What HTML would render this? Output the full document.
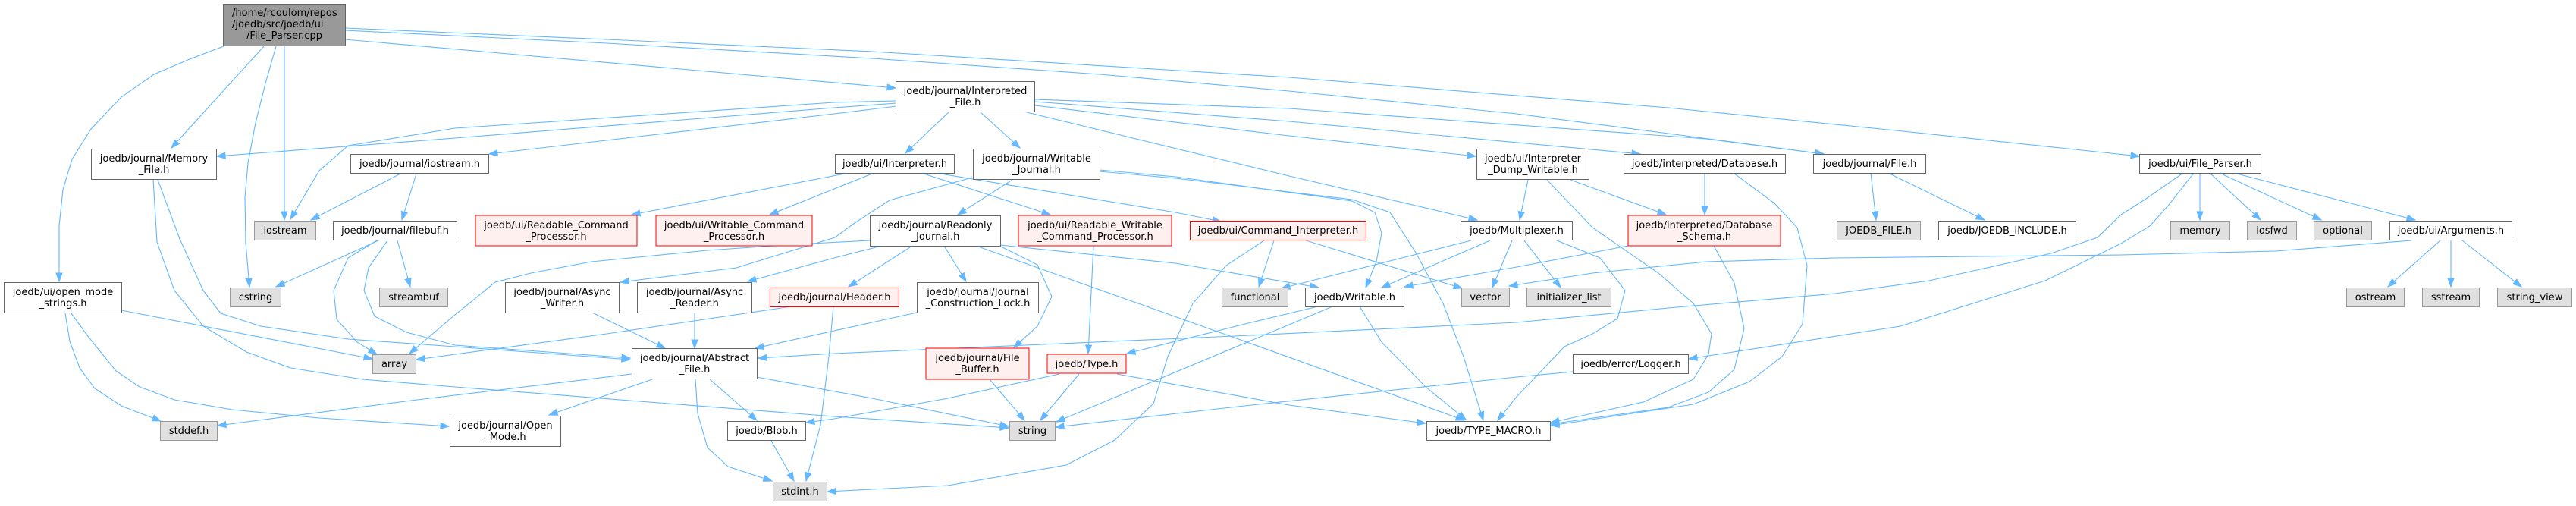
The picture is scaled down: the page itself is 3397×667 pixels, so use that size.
<!DOCTYPE html>
<html><head><meta charset="utf-8"><style>
html,body{margin:0;padding:0;background:#fff;}
svg{display:block;}
text{font-family:"DejaVu Sans","Liberation Sans",sans-serif;font-size:13px;fill:#000;}
.n{fill:#fff;stroke:#666;stroke-width:1;}
.s{fill:#e0e0e0;stroke:#999;stroke-width:1;}
.r{fill:#fff0f0;stroke:#f00;stroke-width:1;}
.rt{fill:#999;stroke:#666;stroke-width:1;}
.e path{fill:none;stroke:#63b8ff;stroke-width:1.1;marker-end:url(#a);}
</style></head><body>
<svg width="3397" height="667" viewBox="0 0 3397 667" xmlns="http://www.w3.org/2000/svg">
<defs><marker id="a" markerWidth="12" markerHeight="10" refX="11" refY="4" orient="auto" markerUnits="userSpaceOnUse" overflow="visible"><path d="M0,0 L11,4 L0,8 z" fill="#63b8ff" stroke="#63b8ff" stroke-width="1"/></marker></defs>
<g class="e">
<path d="M295,61 L250,78 L203,98 L160,128 L120,170 L95,210 L83,250 L78,298 L78,371"/>
<path d="M348,61 L226,195"/>
<path d="M364,61 L350,110 L337,162 L327,215 L323,260 L324,320 L329,378"/>
<path d="M375,61 L375,290"/>
<path d="M455,52 L1181,116"/>
<path d="M455,40 L800,57 L1150,77 L1450,98 L1700,120 L2000,150 L2200,176 L2405,203"/>
<path d="M455,37 L800,52 L1150,68 L1700,102 L2200,142 L2500,172 L2821,206"/>
<path d="M208,237 L237,315 L268,383 L291,413 L344,430 L459,447 L600,457 L831,474"/>
<path d="M202,237 L207,319 L230,383 L268,430 L325,464 L383,485 L478,500 L600,510 L1100,549 L1330,564"/>
<path d="M160,409 L491,473"/>
<path d="M86,413 L92,450 L105,485 L125,512 L160,535 L212,555"/>
<path d="M94,413 L115,442 L153,489 L184,510 L230,527 L306,540 L421,551 L592,562"/>
<path d="M528,229 L410,290"/>
<path d="M549,229 L530,290"/>
<path d="M499,317 L364,378"/>
<path d="M497,317 L459,340 L440,383 L444,421 L471,451 L497,467"/>
<path d="M524,317 L541,378"/>
<path d="M511,317 L486,353 L480,383 L494,417 L536,438 L600,455 L831,472"/>
<path d="M1147,317 L1050,322 L933,330 L780,345 L700,360 L653,372 L600,415 L540,466"/>
<path d="M1044,404 L800,440 L549,474"/>
<path d="M1099,404 L1093,470 L1082,560 L1063,634"/>
<path d="M1209,412 L1150,425 L996,459"/>
<path d="M781,412 L877,459"/>
<path d="M916,412 L916,459"/>
<path d="M860,500 L724,547"/>
<path d="M936,500 L998,554"/>
<path d="M917,500 L920,545 L933,590 L960,615 L1018,634"/>
<path d="M833,493 L550,527 L287,561"/>
<path d="M998,497 L1150,525 L1330,562"/>
<path d="M1017,581 L1047,634"/>
<path d="M1305,500 L1351,554"/>
<path d="M1423,493 L1372,554"/>
<path d="M1397,493 L1250,525 L1100,552 L1063,557"/>
<path d="M1473,493 L1700,534 L1880,558"/>
<path d="M1442,324 L1435,466"/>
<path d="M1680,317 L1660,378"/>
<path d="M1667,317 L1617,350 L1573,400 L1540,470 L1521,532 L1470,580 L1406,613 L1250,640 L1091,648"/>
<path d="M1722,317 L1928,380"/>
<path d="M1940,317 L1690,380"/>
<path d="M1965,317 L1822,379"/>
<path d="M1994,317 L1968,379"/>
<path d="M2010,317 L2058,379"/>
<path d="M2053,317 L2110,340 L2143,383 L2133,420 L2100,440 L2063,457 L2000,523 L1975,554"/>
<path d="M2015,237 L2004,290"/>
<path d="M2071,237 L2197,283"/>
<path d="M2040,237 L2100,300 L2187,360 L2233,400 L2257,440 L2253,467 L2233,500 L2167,530 L2045,557"/>
<path d="M2260,324 L2287,373 L2300,433 L2287,487 L2253,517 L2200,537 L2045,559"/>
<path d="M2286,228 L2340,268 L2370,300 L2383,350 L2377,427 L2350,470 L2307,503 L2233,533 L2045,561"/>
<path d="M2248,228 L2248,283"/>
<path d="M2147,324 L2000,352 L1852,378"/>
<path d="M3180,317 L3000,331 L2797,336 L2420,340 L2250,345 L2100,360 L1990,377"/>
<path d="M2901,228 L2901,290"/>
<path d="M2914,228 L2981,290"/>
<path d="M2927,228 L3061,290"/>
<path d="M2946,228 L3185,290"/>
<path d="M2893,228 L2860,270 L2835,298 L2797,321 L2697,370 L2506,430 L2227,473"/>
<path d="M2879,228 L2830,262 L2797,283 L2766,313 L2705,334 L2544,370 L2420,387 L2200,406 L2000,425 L1650,442 L1100,466 L1000,472"/>
<path d="M2074,490 L2000,497 L1650,534 L1392,563"/>
<path d="M1757,404 L1700,428 L1393,556"/>
<path d="M1793,404 L1822,451 L1880,510 L1933,553"/>
<path d="M1738,404 L1650,425 L1486,466"/>
<path d="M1245,324 L1274,371"/>
<path d="M1203,324 L1119,378"/>
<path d="M1163,324 L1100,340 L986,371"/>
<path d="M1318,324 L1368,349 L1387,391 L1368,430 L1337,458"/>
<path d="M1287,324 L1650,453 L1931,554"/>
<path d="M1319,323 L1550,347 L1739,379"/>
<path d="M1335,237 L1263,283"/>
<path d="M1282,234 L1173,264 L1127,294 L1101,313 L971,353 L818,372"/>
<path d="M1450,224 L1550,233 L1783,265 L1813,280 L1822,307 L1815,345 L1801,379"/>
<path d="M1450,226 L1550,235 L1783,263 L1833,280 L1867,333 L1903,400 L1930,470 L1956,554"/>
<path d="M1119,228 L833,283"/>
<path d="M1150,229 L1015,283"/>
<path d="M1215,228 L1385,283"/>
<path d="M1234,228 L1550,280 L1610,292"/>
<path d="M1182,133 L1100,135 L600,169 L459,192 L421,225 L383,289"/>
<path d="M1182,136 L1100,142 L600,182 L286,206"/>
<path d="M1182,140 L1100,150 L645,203"/>
<path d="M1251,148 L1194,202"/>
<path d="M1293,148 L1345,195"/>
<path d="M1365,131 L1700,143 L2250,183 L2405,203"/>
<path d="M1365,134 L1700,160 L2163,203"/>
<path d="M1365,139 L1700,179 L1946,206"/>
<path d="M1354,148 L1700,232 L1948,290"/>
<path d="M2467,228 L2474,290"/>
<path d="M2490,228 L2617,290"/>
<path d="M3218,317 L3149,378"/>
<path d="M3232,317 L3232,378"/>
<path d="M3247,317 L3325,378"/>
</g>
<g>
<rect class="rt" x="294.5" y="5.5" width="161" height="55"/>
<text x="306" y="21">/home/rcoulom/repos</text>
<text x="306" y="36">/joedb/src/joedb/ui</text>
<text x="375" y="51" text-anchor="middle">/File_Parser.cpp</text>

<rect class="n" x="120.5" y="196.5" width="165" height="40"/>
<text x="203" y="213" text-anchor="middle">joedb/journal/Memory</text>
<text x="203" y="228" text-anchor="middle">_File.h</text>

<rect class="s" x="335.5" y="291.5" width="81" height="25"/>
<text x="376" y="308" text-anchor="middle">iostream</text>

<rect class="n" x="462.5" y="203.5" width="182" height="25"/>
<text x="553.5" y="220" text-anchor="middle">joedb/journal/iostream.h</text>

<rect class="n" x="439.5" y="291.5" width="163" height="25"/>
<text x="521" y="308" text-anchor="middle">joedb/journal/filebuf.h</text>

<rect class="n" x="5.5" y="372.5" width="155" height="40"/>
<text x="83" y="389" text-anchor="middle">joedb/ui/open_mode</text>
<text x="83" y="404" text-anchor="middle">_strings.h</text>

<rect class="s" x="303.5" y="379.5" width="67" height="25"/>
<text x="337" y="396" text-anchor="middle">cstring</text>

<rect class="s" x="500.5" y="379.5" width="90" height="25"/>
<text x="545.5" y="396" text-anchor="middle">streambuf</text>

<rect class="s" x="491.5" y="467.5" width="57" height="25"/>
<text x="520" y="484" text-anchor="middle">array</text>

<rect class="s" x="211.5" y="555.5" width="75" height="25"/>
<text x="249" y="572" text-anchor="middle">stddef.h</text>

<rect class="n" x="593.5" y="548.5" width="146" height="40"/>
<text x="666.5" y="565" text-anchor="middle">joedb/journal/Open</text>
<text x="666.5" y="580" text-anchor="middle">_Mode.h</text>

<rect class="r" x="627" y="284" width="213" height="40"/>
<text x="733.5" y="301" text-anchor="middle">joedb/ui/Readable_Command</text>
<text x="733.5" y="316" text-anchor="middle">_Processor.h</text>

<rect class="r" x="865" y="284" width="206" height="40"/>
<text x="968" y="301" text-anchor="middle">joedb/ui/Writable_Command</text>
<text x="968" y="316" text-anchor="middle">_Processor.h</text>

<rect class="n" x="1101.5" y="203.5" width="157" height="25"/>
<text x="1180" y="220" text-anchor="middle">joedb/ui/Interpreter.h</text>

<rect class="n" x="666.5" y="372.5" width="150" height="40"/>
<text x="741.5" y="389" text-anchor="middle">joedb/journal/Async</text>
<text x="741.5" y="404" text-anchor="middle">_Writer.h</text>

<rect class="n" x="840.5" y="372.5" width="151" height="40"/>
<text x="916" y="389" text-anchor="middle">joedb/journal/Async</text>
<text x="916" y="404" text-anchor="middle">_Reader.h</text>

<rect class="r" x="1015.5" y="379.5" width="170" height="25"/>
<text x="1100.5" y="396" text-anchor="middle">joedb/journal/Header.h</text>

<rect class="n" x="833.5" y="459.5" width="165" height="40"/>
<text x="916" y="476" text-anchor="middle">joedb/journal/Abstract</text>
<text x="916" y="491" text-anchor="middle">_File.h</text>

<rect class="n" x="959.5" y="555.5" width="103" height="25"/>
<text x="1011" y="572" text-anchor="middle">joedb/Blob.h</text>

<rect class="s" x="1019.5" y="635.5" width="71" height="25"/>
<text x="1055" y="652" text-anchor="middle">stdint.h</text>

<rect class="n" x="1181.5" y="107.5" width="183" height="40"/>
<text x="1273" y="124" text-anchor="middle">joedb/journal/Interpreted</text>
<text x="1273" y="139" text-anchor="middle">_File.h</text>

<rect class="n" x="1283.5" y="196.5" width="167" height="40"/>
<text x="1367" y="213" text-anchor="middle">joedb/journal/Writable</text>
<text x="1367" y="228" text-anchor="middle">_Journal.h</text>

<rect class="n" x="1147.5" y="284.5" width="172" height="40"/>
<text x="1233.5" y="301" text-anchor="middle">joedb/journal/Readonly</text>
<text x="1233.5" y="316" text-anchor="middle">_Journal.h</text>

<rect class="r" x="1343" y="284" width="202" height="40"/>
<text x="1444" y="301" text-anchor="middle">joedb/ui/Readable_Writable</text>
<text x="1444" y="316" text-anchor="middle">_Command_Processor.h</text>

<rect class="r" x="1569.5" y="291.5" width="232" height="25"/>
<text x="1685.5" y="308" text-anchor="middle">joedb/ui/Command_Interpreter.h</text>

<rect class="n" x="1209.5" y="372.5" width="160" height="40"/>
<text x="1289.5" y="389" text-anchor="middle">joedb/journal/Journal</text>
<text x="1289.5" y="404" text-anchor="middle">_Construction_Lock.h</text>

<rect class="r" x="1221" y="459" width="136" height="41"/>
<text x="1289" y="476" text-anchor="middle">joedb/journal/File</text>
<text x="1289" y="491" text-anchor="middle">_Buffer.h</text>

<rect class="r" x="1381" y="467" width="104" height="25"/>
<text x="1433" y="484" text-anchor="middle">joedb/Type.h</text>

<rect class="s" x="1331.5" y="555.5" width="60" height="25"/>
<text x="1361.5" y="572" text-anchor="middle">string</text>

<rect class="s" x="1611.5" y="379.5" width="87" height="25"/>
<text x="1655" y="396" text-anchor="middle">functional</text>

<rect class="n" x="1947.5" y="196.5" width="148" height="40"/>
<text x="2021.5" y="213" text-anchor="middle">joedb/ui/Interpreter</text>
<text x="2021.5" y="228" text-anchor="middle">_Dump_Writable.h</text>

<rect class="n" x="2141.5" y="203.5" width="213" height="25"/>
<text x="2248" y="220" text-anchor="middle">joedb/interpreted/Database.h</text>

<rect class="n" x="1926.5" y="291.5" width="147" height="25"/>
<text x="2000" y="308" text-anchor="middle">joedb/Multiplexer.h</text>

<rect class="r" x="2147" y="284" width="201" height="40"/>
<text x="2247.5" y="301" text-anchor="middle">joedb/interpreted/Database</text>
<text x="2247.5" y="316" text-anchor="middle">_Schema.h</text>

<rect class="n" x="1721.5" y="379.5" width="130" height="25"/>
<text x="1786.5" y="396" text-anchor="middle">joedb/Writable.h</text>

<rect class="s" x="1927.5" y="379.5" width="63" height="25"/>
<text x="1959" y="396" text-anchor="middle">vector</text>

<rect class="s" x="2013.5" y="379.5" width="111" height="25"/>
<text x="2069" y="396" text-anchor="middle">initializer_list</text>

<rect class="n" x="2074.5" y="467.5" width="152" height="25"/>
<text x="2150.5" y="484" text-anchor="middle">joedb/error/Logger.h</text>

<rect class="n" x="1881.5" y="555.5" width="163" height="25"/>
<text x="1963" y="572" text-anchor="middle">joedb/TYPE_MACRO.h</text>

<rect class="n" x="2391.5" y="203.5" width="148" height="25"/>
<text x="2465.5" y="220" text-anchor="middle">joedb/journal/File.h</text>

<rect class="s" x="2422.5" y="291.5" width="110" height="25"/>
<text x="2477.5" y="308" text-anchor="middle">JOEDB_FILE.h</text>

<rect class="n" x="2556.5" y="291.5" width="181" height="25"/>
<text x="2647" y="308" text-anchor="middle">joedb/JOEDB_INCLUDE.h</text>

<rect class="n" x="2821.5" y="203.5" width="160" height="25"/>
<text x="2901.5" y="220" text-anchor="middle">joedb/ui/File_Parser.h</text>

<rect class="s" x="2862.5" y="291.5" width="78" height="25"/>
<text x="2901.5" y="308" text-anchor="middle">memory</text>

<rect class="s" x="2963.5" y="291.5" width="65" height="25"/>
<text x="2996" y="308" text-anchor="middle">iosfwd</text>

<rect class="s" x="3051.5" y="291.5" width="76" height="25"/>
<text x="3089.5" y="308" text-anchor="middle">optional</text>

<rect class="n" x="3151.5" y="291.5" width="161" height="25"/>
<text x="3232" y="308" text-anchor="middle">joedb/ui/Arguments.h</text>

<rect class="s" x="3094.5" y="379.5" width="76" height="25"/>
<text x="3132.5" y="396" text-anchor="middle">ostream</text>

<rect class="s" x="3194.5" y="379.5" width="75" height="25"/>
<text x="3232" y="396" text-anchor="middle">sstream</text>

<rect class="s" x="3293.5" y="379.5" width="98" height="25"/>
<text x="3342.5" y="396" text-anchor="middle">string_view</text>
</g>
</svg>
</body></html>
